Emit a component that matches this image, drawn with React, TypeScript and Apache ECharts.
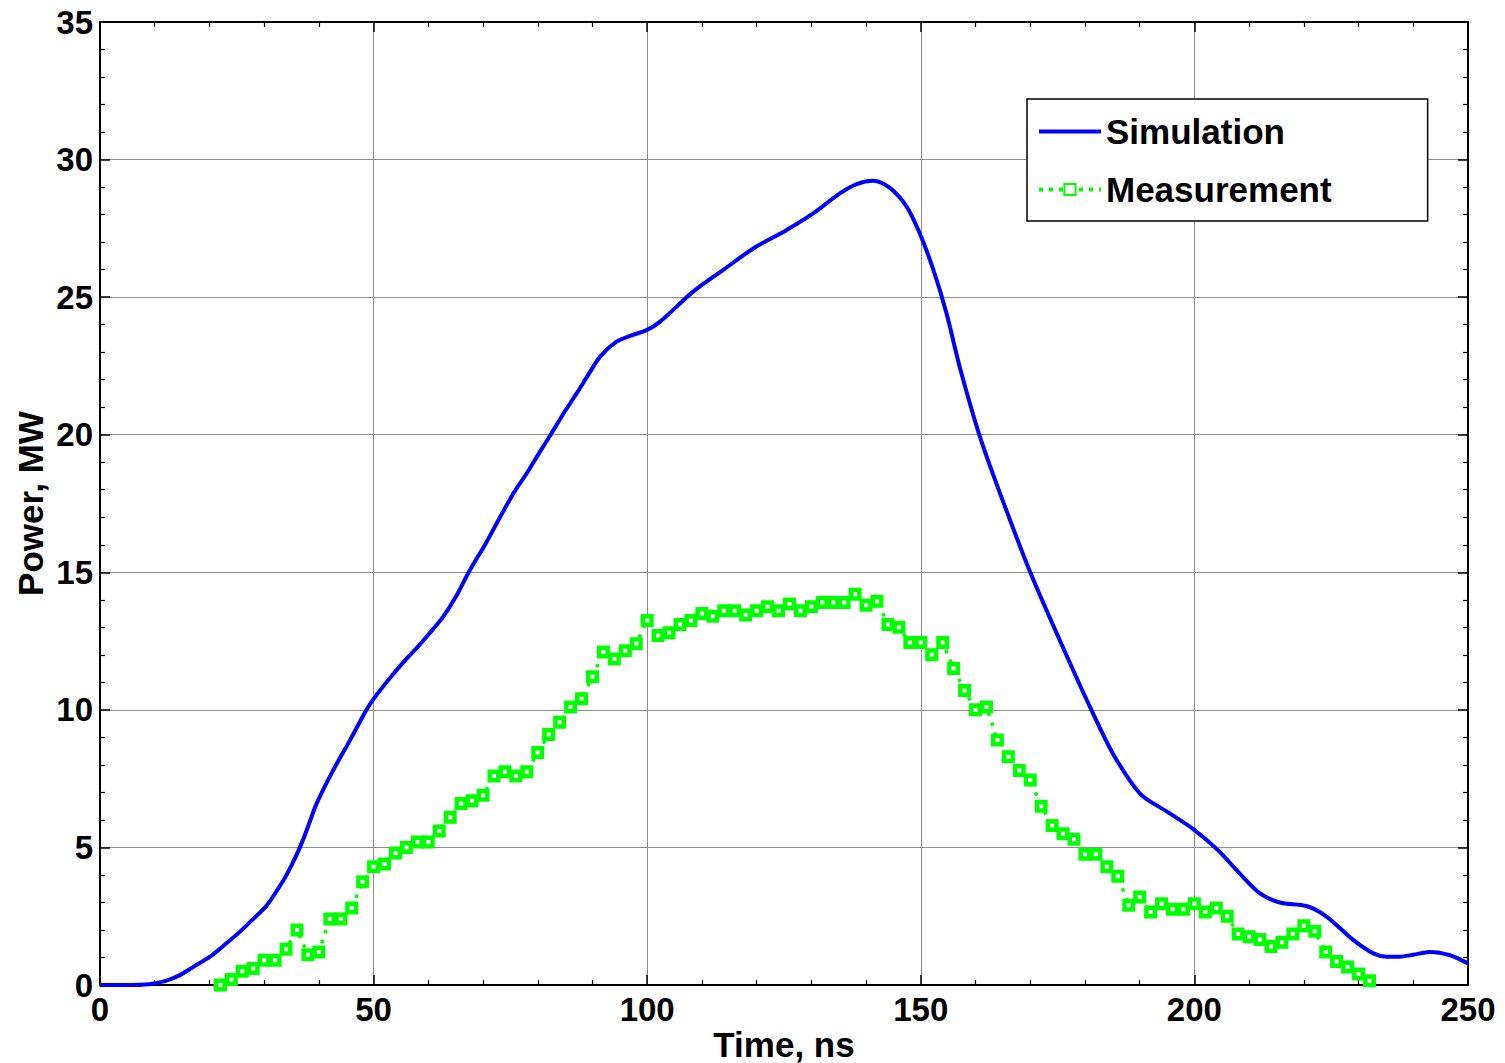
import React, { useEffect, useRef } from "react";
import * as echarts from "echarts";

const xTicks = [0, 50, 100, 150, 200, 250];
const yTicks = [0, 5, 10, 15, 20, 25, 30, 35];

const simTime = [
  0, 5, 9, 12, 14.6, 17, 20.1, 23, 25.6, 28, 30.5, 33.5, 35, 36.6, 38, 39.6, 42.6, 45.7, 48.7, 50,
  53.6, 56, 57.9, 60.3, 62.7, 65, 67.6, 70.5, 73.1, 75.5, 78, 80.3, 82.5, 84.8, 87.1, 89.3, 91.4,
  94.4, 97, 99.9, 102.3, 108.4, 113.9, 119.4, 125.5, 130.4, 135.2, 138.3, 141.3, 144.4, 147.4,
  149.8, 152.3, 154.7, 157.2, 160.8, 164.5, 170, 175.4, 181, 185.2, 190.1, 195, 199.9, 204.3,
  208.3, 212, 215.6, 220.5, 224.2, 229, 232.7, 235.1, 237.5, 240, 243, 246.7, 250,
];
const simPower = [
  0, 0, 0.03, 0.15, 0.36, 0.65, 1.03, 1.5, 1.94, 2.4, 2.9, 3.8, 4.35, 5.03, 5.75, 6.6, 7.8, 8.9, 10.0, 10.4,
  11.3, 11.85, 12.25, 12.8, 13.38, 14.1, 15.08, 16.05, 17.0, 17.85, 18.6, 19.35, 20.05, 20.8, 21.5, 22.2, 22.84,
  23.38, 23.6, 23.8, 24.1, 25.2, 25.99, 26.77, 27.44, 28.05, 28.77, 29.11, 29.23, 28.96, 28.29,
  27.32, 25.99, 24.41, 22.4, 19.93, 17.86, 15.0, 12.53, 10.07, 8.38, 6.95, 6.3, 5.65, 4.9,
  4.05, 3.33, 3.0, 2.87, 2.48, 1.64, 1.15, 1.03, 1.03, 1.1, 1.2, 1.08, 0.78,
];

const measTime = [
  22, 24, 26, 28, 30, 32, 34, 36, 38, 40, 42, 44, 46, 48, 50, 52, 54, 56, 58, 60,
  62, 64, 66, 68, 70, 72, 74, 76, 78, 80, 82, 84, 86, 88, 90, 92, 94, 96, 98, 100,
  102, 104, 106, 108, 110, 112, 114, 116, 118, 120, 122, 124, 126, 128, 130, 132, 134, 136, 138, 140,
  142, 144, 146, 148, 150, 152, 154, 156, 158, 160, 162, 164, 166, 168, 170, 172, 174, 176, 178, 180,
  182, 184, 186, 188, 190, 192, 194, 196, 198, 200, 202, 204, 206, 208, 210, 212, 214, 216, 218, 220,
  222, 224, 226, 228, 230, 232,
];
const measPower = [
  0.0, 0.2, 0.5, 0.6, 0.9, 0.9, 1.3, 2.0, 1.1, 1.2, 2.4, 2.4, 2.8, 3.75, 4.3, 4.4, 4.8, 5.0, 5.2, 5.2,
  5.6, 6.1, 6.6, 6.7, 6.9, 7.6, 7.75, 7.6, 7.75, 8.45, 9.1, 9.55, 10.1, 10.4, 11.2, 12.1, 11.85, 12.15, 12.4, 13.25,
  12.7, 12.8, 13.1, 13.25, 13.5, 13.4, 13.6, 13.6, 13.45, 13.6, 13.75, 13.6, 13.85, 13.6, 13.75, 13.9, 13.9, 13.9, 14.2, 13.8,
  13.95, 13.1, 13.0, 12.45, 12.45, 12.0, 12.45, 11.5, 10.7, 10.0, 10.1, 8.9, 8.3, 7.8, 7.45, 6.5, 5.8, 5.5, 5.3, 4.75,
  4.75, 4.3, 3.95, 2.9, 3.2, 2.65, 2.95, 2.75, 2.75, 2.95, 2.65, 2.8, 2.5, 1.85, 1.75, 1.65, 1.4, 1.55, 1.85, 2.15,
  1.95, 1.2, 0.85, 0.65, 0.4, 0.15,
];

const FONT = "'Liberation Sans', Arial, Helvetica, sans-serif";

export default function App() {
  const ref = useRef<HTMLDivElement>(null);

  useEffect(() => {
    if (!ref.current) return;
    const chart = echarts.init(ref.current, null, { renderer: "svg" });
    const xMin = xTicks[0];
    const xMax = xTicks[xTicks.length - 1];
    const xInt = xTicks[1] - xTicks[0];
    const yMin = yTicks[0];
    const yMax = yTicks[yTicks.length - 1];
    const yInt = yTicks[1] - yTicks[0];

    const tickLabelStyle = {
      color: "#000",
      fontFamily: FONT,
      fontWeight: "bold" as const,
      fontSize: 33,
    };
    const nameStyle = {
      color: "#000",
      fontFamily: FONT,
      fontWeight: "bold" as const,
      fontSize: 35,
    };

    const baseAxis = {
      type: "value" as const,
      axisLine: { show: true, onZero: false, lineStyle: { color: "#000", width: 2 } },
      axisTick: { show: true, inside: true, length: 10, lineStyle: { color: "#000", width: 1.5 } },
      minorTick: { show: true, splitNumber: 5, length: 5, lineStyle: { color: "#000", width: 1.2 } },
    };

    chart.setOption({
      animation: false,
      backgroundColor: "#fff",
      grid: {
        left: 100,
        right: 37,
        top: 22,
        bottom: 78,
        containLabel: false,
        outerBoundsMode: "none",
      },
      legend: {
        orient: "vertical",
        left: 1027,
        top: 99,
        data: [
          { name: "Simulation", itemStyle: { opacity: 0 }, lineStyle: { width: 4, color: "#0000ff" } },
          { name: "Measurement", lineStyle: { width: 4, color: "#00ff00", type: [4, 6] } },
        ],
        backgroundColor: "#fff",
        borderColor: "#000",
        borderWidth: 1.5,
        borderRadius: 0,
        padding: [15, 96, 14, 10],
        itemWidth: 62,
        itemHeight: 14,
        itemGap: 23,
        textStyle: { color: "#000", fontFamily: FONT, fontWeight: "bold", fontSize: 35 },
      },
      xAxis: [
        {
          ...baseAxis,
          position: "bottom",
          min: xMin,
          max: xMax,
          interval: xInt,
          name: "Time, ns",
          nameLocation: "middle",
          nameGap: 42,
          nameMoveOverlap: false,
          nameTextStyle: nameStyle,
          axisLabel: { ...tickLabelStyle, margin: 8 },
          splitLine: { show: true, lineStyle: { color: "#8c8c8c", width: 1 } },
        },
        {
          ...baseAxis,
          position: "top",
          min: xMin,
          max: xMax,
          interval: xInt,
          axisLabel: { show: false },
          splitLine: { show: false },
        },
      ],
      yAxis: [
        {
          ...baseAxis,
          position: "left",
          min: yMin,
          max: yMax,
          interval: yInt,
          name: "Power, MW",
          nameLocation: "middle",
          nameGap: 52,
          nameMoveOverlap: false,
          nameTextStyle: nameStyle,
          axisLabel: { ...tickLabelStyle, margin: 7 },
          splitLine: { show: true, lineStyle: { color: "#8c8c8c", width: 1 } },
        },
        {
          ...baseAxis,
          position: "right",
          min: yMin,
          max: yMax,
          interval: yInt,
          axisLabel: { show: false },
          splitLine: { show: false },
        },
      ],
      series: [
        {
          name: "Simulation",
          type: "line",
          xAxisIndex: 0,
          yAxisIndex: 0,
          data: simTime.map((t, i) => [t, simPower[i]]),
          smooth: 0.3,
          showSymbol: false,
          symbol: "none",
          lineStyle: { color: "#0000ff", width: 4 },
          itemStyle: { color: "#0000ff" },
          z: 2,
        },
        {
          name: "Measurement",
          type: "line",
          xAxisIndex: 0,
          yAxisIndex: 0,
          data: measTime.map((t, i) => [t, measPower[i]]),
          symbol: "rect",
          symbolSize: 8.5,
          showAllSymbol: true,
          lineStyle: { color: "#00ff00", width: 3.5, type: [3.5, 7] },
          itemStyle: { color: "#ffffff", borderColor: "#00ff00", borderWidth: 4.5 },
          z: 3,
        },
      ],
    });

    return () => chart.dispose();
  }, []);

  return (
    <div
      ref={ref}
      style={{ position: "fixed", left: 0, top: 0, width: 1505, height: 1063, background: "#fff" }}
    />
  );
}
